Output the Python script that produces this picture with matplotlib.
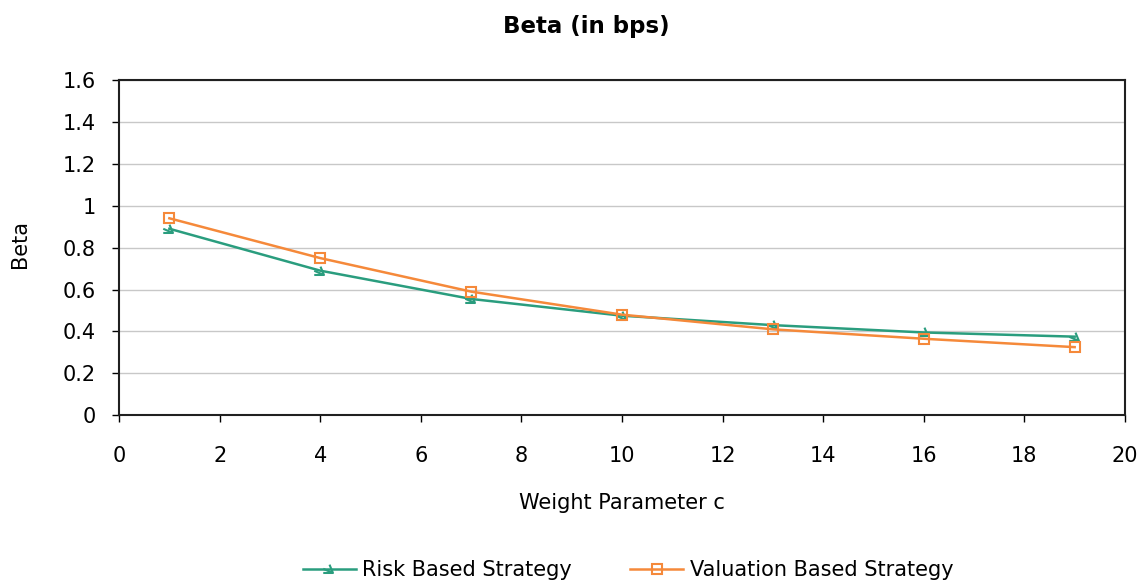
import matplotlib.pyplot as plt
from matplotlib.path import Path

plt.rcParams['font.family'] = ['DejaVu Sans']

weight_c = [1, 4, 7, 10, 13, 16, 19]
risk_beta = [0.89, 0.69, 0.555, 0.475, 0.43, 0.395, 0.375]
valuation_beta = [0.94, 0.75, 0.59, 0.48, 0.41, 0.365, 0.325]

green = '#2a9d7e'
orange = '#f5893a'

# small open hook marker for the risk series
hook = Path([(-0.9, -0.5), (0.5, -0.5), (0.0, 0.7), (0.5, -0.5), (-0.9, 0.1)],
            [Path.MOVETO, Path.LINETO, Path.MOVETO, Path.LINETO, Path.LINETO])

fig = plt.figure(figsize=(11.45, 5.84), dpi=100)
ax = fig.add_axes([0.104, 0.289, 0.8785, 0.574])

ax.plot(weight_c, risk_beta, color=green, lw=1.8, marker=hook, markersize=9,
        markerfacecolor='none', markeredgecolor=green, markeredgewidth=1.5,
        label='Risk Based Strategy')
ax.plot(weight_c, valuation_beta, color=orange, lw=1.8, marker='s', markersize=7,
        markerfacecolor='none', markeredgecolor=orange, markeredgewidth=1.5,
        label='Valuation Based Strategy')

ax.set_xlim(0, 20)
ax.set_ylim(0, 1.6)
ax.set_xticks(range(0, 21, 2))
ax.set_yticks([0, 0.2, 0.4, 0.6, 0.8, 1.0, 1.2, 1.4, 1.6])
ax.set_yticklabels(['0', '0.2', '0.4', '0.6', '0.8', '1', '1.2', '1.4', '1.6'])
ax.grid(axis='y', color='#c8c8c8', lw=1)
ax.set_axisbelow(True)
for s in ax.spines.values():
    s.set_linewidth(1.5)
    s.set_color('#202020')
ax.tick_params(labelsize=15, length=5, width=1)
ax.tick_params(axis='x', pad=17)
ax.tick_params(axis='y', pad=12)

ax.set_xlabel('Weight Parameter c', fontsize=15, va='center')
ax.xaxis.set_label_coords(0.5, (415 - 503) / 335)
ax.set_ylabel('Beta', fontsize=15, va='center')
ax.yaxis.set_label_coords((20 - 119) / 1006, (415 - 244) / 335)

fig.text(586 / 1145, 1 - 33 / 584, 'Beta (in bps)', ha='center', va='baseline',
         fontsize=16.5, fontweight='bold')

fig.legend(loc='center', bbox_to_anchor=(0.5485, 1 - 570 / 584), ncol=2,
           frameon=False, fontsize=15, handlelength=2.55, handletextpad=0.3,
           columnspacing=2.8, borderpad=0)

fig.savefig('out.png', dpi=100)
